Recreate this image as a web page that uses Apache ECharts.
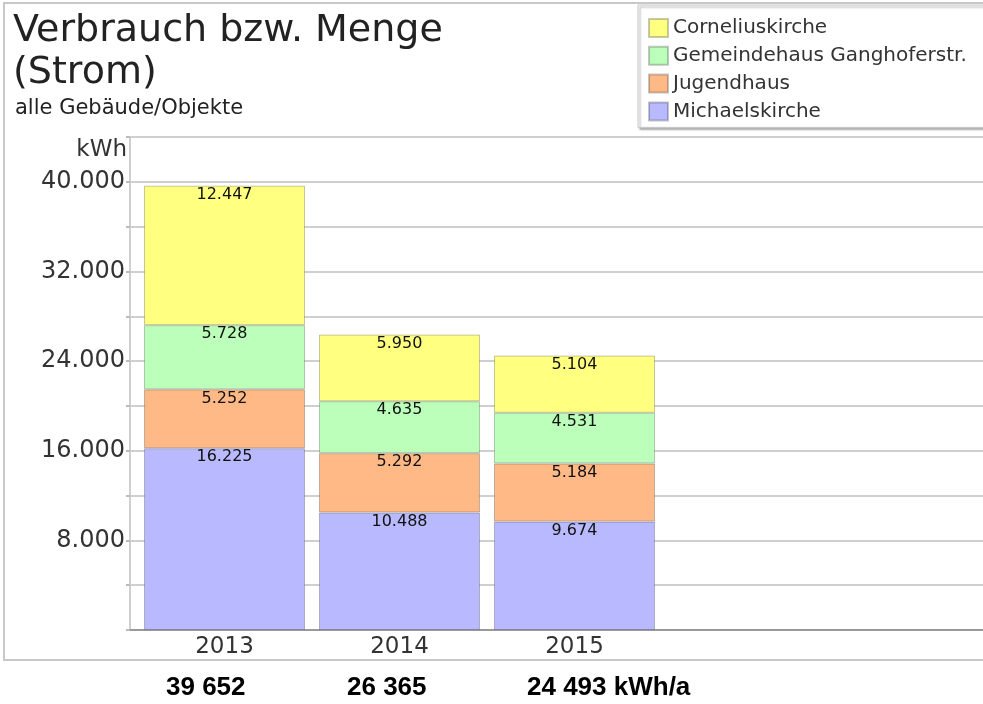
<!DOCTYPE html>
<html lang="de">
<head>
    <meta charset="UTF-8">
    <title>Verbrauch bzw. Menge (Strom)</title>
    <script src="https://cdn.jsdelivr.net/npm/echarts@6/dist/echarts.min.js"></script>
    <style type="text/css">
        html, body { margin: 0; padding: 0; background: #fff; }
        #main { width: 983px; height: 704px; }
    </style>
</head>
<body>
<div id="main"></div>
<script type="text/javascript">
    // Jahre und Verbrauch je Gebäude (kWh)
    var jahre = ['2013', '2014', '2015'];
    var michaelskirche = [16225, 10488, 9674];
    var jugendhaus = [5252, 5292, 5184];
    var gemeindehaus = [5728, 4635, 4531];
    var corneliuskirche = [12447, 5950, 5104];

    var farben = {
        michael: '#b9b9ff',
        jugend: '#ffb987',
        gemeinde: '#bbffbb',
        cornelius: '#ffff80'
    };

    // 12447 -> "12.447"
    function punkt(v) {
        return String(v).replace(/\B(?=(\d{3})+(?!\d))/g, '.');
    }
    // 39652 -> "39 652"
    function leer(v) {
        return String(v).replace(/\B(?=(\d{3})+(?!\d))/g, ' ');
    }

    var summen = jahre.map(function (j, i) {
        return michaelskirche[i] + jugendhaus[i] + gemeindehaus[i] + corneliuskirche[i];
    });

    var myChart = echarts.init(document.getElementById('main'));

    function balken(name, werte, farbe) {
        return {
            name: name,
            type: 'bar',
            stack: 'gesamt',
            xAxisIndex: 1,
            yAxisIndex: 1,
            barWidth: 161,
            data: werte,
            itemStyle: { color: farbe, borderColor: 'rgba(0,0,0,0.22)', borderWidth: 1 },
            label: {
                show: true,
                position: 'insideTop',
                distance: 1,
                fontFamily: 'DejaVu Sans',
                fontSize: 16,
                color: '#111',
                formatter: function (p) { return punkt(p.value); }
            }
        };
    }

    var schrift = { fontFamily: 'DejaVu Sans', fontWeight: 'normal' };
    var summeFont = 'bold 26px "Liberation Sans"';

    var option = {
        animation: false,
        backgroundColor: '#fff',
        title: [{
            text: 'Verbrauch bzw. Menge\n(Strom)',
            left: 8,
            top: 5,
            textStyle: Object.assign({ fontSize: 38, color: '#222', lineHeight: 42 }, schrift)
        }, {
            text: 'alle Gebäude/Objekte',
            left: 10,
            top: 93,
            textStyle: Object.assign({ fontSize: 21, color: '#222' }, schrift)
        }],
        legend: {
            orient: 'vertical',
            left: 638,
            top: 5,
            padding: [13, 40, 6, 10],
            itemWidth: 19,
            itemHeight: 18,
            itemGap: 7.8,
            icon: 'rect',
            backgroundColor: '#fff',
            borderColor: '#c8c8c8',
            borderWidth: 1,
            shadowColor: 'rgba(0,0,0,0.35)',
            shadowBlur: 2,
            shadowOffsetX: 2,
            shadowOffsetY: 2,
            data: ['Corneliuskirche', 'Gemeindehaus Ganghoferstr.', 'Jugendhaus', 'Michaelskirche'],
            textStyle: { fontFamily: 'DejaVu Sans', fontSize: 20, color: '#333', lineHeight: 18 }
        },
        grid: [
            { left: 130, top: 137, right: 0, bottom: 74 },
            { left: 137, top: 137, width: 525, bottom: 74 }
        ],
        xAxis: [{
            gridIndex: 0,
            type: 'value',
            min: 0,
            max: 1,
            axisLine: { show: true, onZero: false, lineStyle: { color: '#9a9a9a', width: 2 } },
            axisTick: { show: false },
            axisLabel: { show: false },
            splitLine: { show: false }
        }, {
            gridIndex: 1,
            type: 'category',
            data: jahre,
            axisLine: { show: false },
            axisTick: { show: false },
            axisLabel: Object.assign({ fontSize: 23, color: '#333', margin: 6 }, schrift)
        }, {
            gridIndex: 0,
            type: 'value',
            position: 'top',
            min: 0,
            max: 1,
            axisLine: { show: true, onZero: false, lineStyle: { color: '#cfcfcf', width: 2 } },
            axisTick: { show: false },
            axisLabel: { show: false },
            splitLine: { show: false }
        }],
        yAxis: [{
            gridIndex: 0,
            type: 'value',
            min: 0,
            max: 44000,
            interval: 4000,
            axisLine: { show: true, lineStyle: { color: '#cfcfcf', width: 2 } },
            axisTick: { show: true, length: 4, lineStyle: { color: '#bbb', width: 2 } },
            splitLine: { lineStyle: { color: '#cfcfcf', width: 2 } },
            axisLabel: Object.assign({
                fontSize: 24,
                color: '#333',
                margin: 5,
                formatter: function (v) {
                    return (v > 0 && v % 8000 === 0) ? punkt(v) : '';
                }
            }, schrift)
        }, {
            gridIndex: 1,
            type: 'value',
            min: 0,
            max: 44000,
            show: false
        }],
        graphic: [{
            type: 'rect',
            shape: { x: 4, y: 3, width: 1000, height: 657 },
            style: { fill: 'none', stroke: '#c8c8c8', lineWidth: 2 },
            z: -1
        }, {
            type: 'text',
            right: 983 - 127,
            top: 139,
            style: { text: 'kWh', font: '23px "DejaVu Sans"', fill: '#333' }
        }, {
            type: 'text',
            left: 166,
            top: 675,
            style: { text: leer(summen[0]), font: summeFont, fill: '#000' }
        }, {
            type: 'text',
            left: 347,
            top: 675,
            style: { text: leer(summen[1]), font: summeFont, fill: '#000' }
        }, {
            type: 'text',
            left: 527,
            top: 675,
            style: { text: leer(summen[2]) + ' kWh/a', font: summeFont, fill: '#000' }
        }],
        series: [
            balken('Michaelskirche', michaelskirche, farben.michael),
            balken('Jugendhaus', jugendhaus, farben.jugend),
            balken('Gemeindehaus Ganghoferstr.', gemeindehaus, farben.gemeinde),
            balken('Corneliuskirche', corneliuskirche, farben.cornelius)
        ]
    };

    myChart.setOption(option);
</script>
</body>
</html>
